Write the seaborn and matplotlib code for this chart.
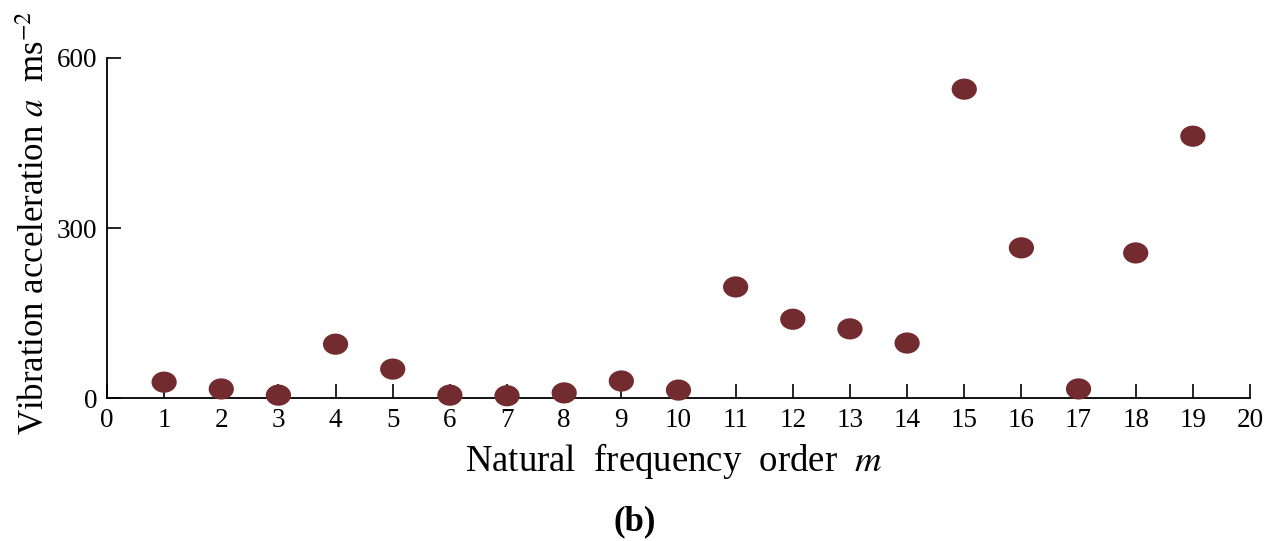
import numpy as np
import pandas as pd
import matplotlib
matplotlib.use("Agg")
import matplotlib.pyplot as plt
from matplotlib.path import Path
import seaborn as sns

orders = [1, 2, 3, 4, 5, 6, 7, 8, 9, 10, 11, 12, 13, 14, 15, 16, 17, 18, 19]
accel = [28, 16, 5, 95, 51, 5, 4, 9, 30, 14, 196, 139, 122, 97, 545, 265, 16, 256, 462]
xticks = list(range(0, 21))
yticks = [0, 300, 600]

sns.set_theme(style="white")
plt.rcParams['font.family'] = ['Liberation Serif', 'DejaVu Serif']
plt.rcParams['mathtext.fontset'] = 'stix'
plt.rcParams['text.color'] = 'black'
plt.rcParams['axes.labelcolor'] = 'black'
plt.rcParams['xtick.color'] = 'black'
plt.rcParams['ytick.color'] = 'black'

df = pd.DataFrame({"m": orders, "a": accel})

fig = plt.figure(figsize=(12.78, 5.41), dpi=100)
ax = fig.add_axes([0.0837, 0.2643, 0.8944, 0.6285])

circ = Path.unit_circle()
ell = Path(circ.vertices * np.array([1.0, 0.84]), circ.codes)

sns.scatterplot(data=df, x="m", y="a", ax=ax, marker=ell, s=330,
                color="#722B2E", edgecolor="none", linewidth=0, clip_on=False, zorder=3)

ax.set_xlim(0, 20)
ax.set_ylim(0, 600)
ax.set_xticks(xticks)
ax.set_yticks(yticks)
ax.tick_params(axis='both', direction='in', length=10, width=1.2, color='black',
               labelsize=19.5, pad=7, bottom=True, left=True, labelcolor='black')
for s in ['top', 'right']:
    ax.spines[s].set_visible(False)
for s in ['left', 'bottom']:
    ax.spines[s].set_color('black')
    ax.spines[s].set_linewidth(1.3)

ax.set_xlabel(r"Natural  frequency  order  $\mathit{m}$", fontsize=26.5)
ax.xaxis.set_label_coords(0.496, -0.125)
ax.set_ylabel(r"Vibration acceleration $\mathit{a}$  ms$^{-2}$", fontsize=25)
ax.yaxis.set_label_coords(-0.048, 0.515)
fig.text(0.497, 0.005, "(b)", fontsize=25, fontweight='bold', ha='center', va='bottom')

fig.savefig("out.png", dpi=100)
